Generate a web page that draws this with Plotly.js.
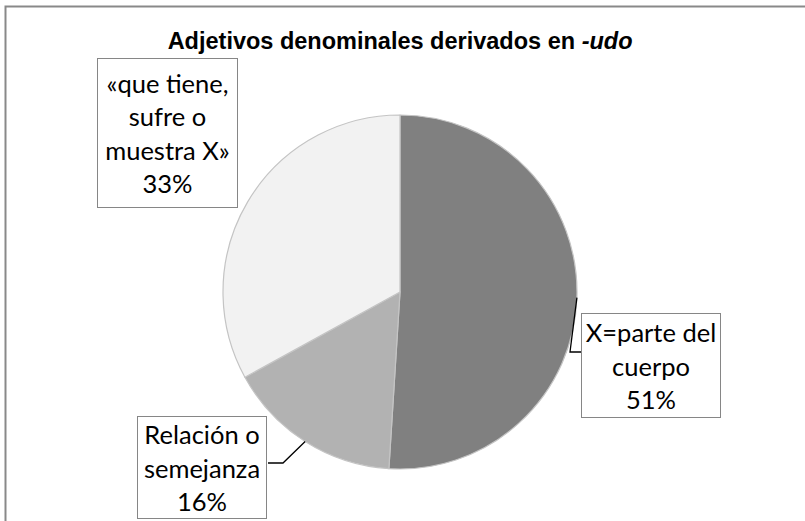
<!DOCTYPE html>
<html>
<head>
<meta charset="utf-8">
<script src="https://cdn.plot.ly/plotly-3.0.1.min.js"></script>
<style>html,body{margin:0;padding:0;background:#fff;}#chart{width:805px;height:521px;}</style>
</head>
<body>
<div id="chart"></div>
<script>
// ---- data ----
const categories = ["X=parte del<br>cuerpo", "Relación o<br>semejanza", "«que tiene,<br>sufre o<br>muestra X»"];
const values = [51, 16, 33];
const sliceColors = ["#808080", "#b2b2b2", "#f2f2f2"];
const titleText = "<b>Adjetivos denominales derivados en <i>-udo</i></b>";

// ---- layout helpers ----
const W = 805, H = 521;
const px = x => x / W;
const py = y => 1 - y / H;

const dom = {x: [223 / W, 577 / W], y: [1 - 469 / H, 1 - 115 / H]};
const cx = (dom.x[0] + dom.x[1]) / 2 * W;
const cy = (1 - (dom.y[0] + dom.y[1]) / 2) * H;
const R = Math.min((dom.x[1] - dom.x[0]) * W, (dom.y[1] - dom.y[0]) * H) / 2;

// mid-angle point of each slice on the pie edge (clockwise from 12 o'clock)
const total = values.reduce((a, b) => a + b, 0);
let cum = 0;
const edgePts = values.map(v => {
  const mid = (cum + v / 2) / total * 2 * Math.PI;
  cum += v;
  return [cx + R * Math.sin(mid), cy - R * Math.cos(mid)];
});

const pct = values.map(v => Math.round(v / total * 100) + "%");

// label boxes: [centerX, centerY, boxW, boxH] in px
const boxes = [[651, 365, 140, 105], [202.5, 467.5, 130, 103], [167.5, 133, 141, 150]];

const annotations = categories.map((c, i) => ({
  text: c + "<br>" + pct[i],
  xref: "paper", yref: "paper",
  x: px(boxes[i][0]), y: py(boxes[i][1]),
  xanchor: "center", yanchor: "middle",
  width: boxes[i][2] - 2, height: boxes[i][3] - 2,
  showarrow: false,
  bordercolor: "#868686", borderwidth: 1, borderpad: 0,
  bgcolor: "#ffffff",
  font: {family: "Lato, 'Noto Sans', sans-serif", size: 25.5, color: "#000"}
}));

// leader lines (bent) from slice edge to box
const leaderBends = [[[570, 352], [581, 352]], [[283, 463], [268, 463]]];
const shapes = leaderBends.map((b, i) => {
  const p = edgePts[i];
  return {
    type: "path", xref: "paper", yref: "paper",
    path: `M ${px(p[0])} ${py(p[1])} L ${px(b[0][0])} ${py(b[0][1])} L ${px(b[1][0])} ${py(b[1][1])}`,
    line: {color: "#000", width: 1.3}
  };
});
// outer chart border
shapes.push({type: "rect", xref: "paper", yref: "paper",
  x0: px(5.5), x1: 1.05, y0: -0.05, y1: py(6.5),
  line: {color: "#898989", width: 2}, fillcolor: "rgba(0,0,0,0)"});

const data = [{
  type: "pie",
  values: values,
  labels: categories,
  marker: {colors: sliceColors, line: {color: "#c4c4c4", width: 1.2}},
  sort: false,
  direction: "clockwise",
  rotation: 0,
  textinfo: "none",
  hoverinfo: "none",
  showlegend: false,
  domain: dom
}];

const layout = {
  width: W, height: H,
  margin: {l: 0, r: 0, t: 0, b: 0},
  paper_bgcolor: "#ffffff",
  title: {text: titleText, x: 0.497, xanchor: "center", y: py(41), yanchor: "middle",
    font: {family: "'Liberation Sans', Arial, sans-serif", size: 23.5, color: "#000"}},
  annotations: annotations,
  shapes: shapes
};

Plotly.newPlot("chart", data, layout, {displayModeBar: false, staticPlot: true});
</script>
</body>
</html>
